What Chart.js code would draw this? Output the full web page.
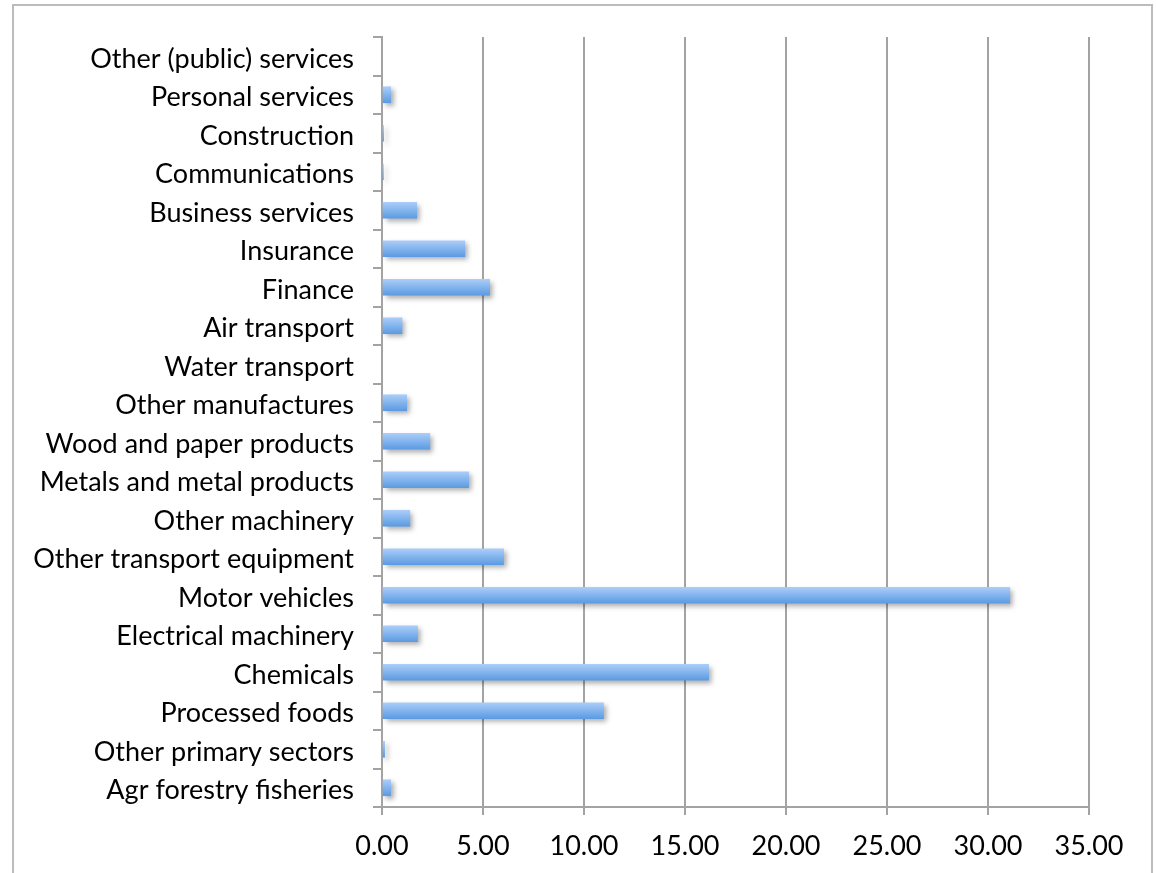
<!DOCTYPE html>
<html>
<head>
<meta charset="utf-8">
<script src="https://cdn.jsdelivr.net/npm/chart.js@4.4.1/dist/chart.umd.min.js"></script>
<style>
  html, body { margin: 0; padding: 0; background: #fff; overflow: hidden; }
  #frame { position: absolute; left: 12px; top: 4px; width: 1137px; height: 900px; border: 2px solid #bcbcbc; }
  #wrap { position: absolute; left: 0; top: 0; width: 1156px; height: 873px; }
</style>
</head>
<body>
<div id="frame"></div>
<div id="wrap"><canvas id="c" width="1156" height="873"></canvas></div>
<script>
// Categories listed bottom-to-top (as in the source chart)
const categories = [
  "Agr forestry fisheries",
  "Other primary sectors",
  "Processed foods",
  "Chemicals",
  "Electrical machinery",
  "Motor vehicles",
  "Other transport equipment",
  "Other machinery",
  "Metals and metal products",
  "Wood and paper products",
  "Other manufactures",
  "Water transport",
  "Air transport",
  "Finance",
  "Insurance",
  "Business services",
  "Communications",
  "Construction",
  "Personal services",
  "Other (public) services"
];
const values = [
  0.43, 0.13, 10.97, 16.17, 1.76, 31.08, 6.02, 1.38, 4.29, 2.37,
  1.22, 0.0, 0.99, 5.33, 4.10, 1.72, 0.07, 0.08, 0.43, 0.0
];
const xTickMin = 0, xTickMax = 35, xTickStep = 5;

const BAR_T = 16;

const shadowPlugin = {
  id: 'barShadow',
  beforeDatasetsDraw(chart) {
    const ctx = chart.ctx;
    ctx.save();
    ctx.shadowColor = 'rgba(0,0,0,0.32)';
    ctx.shadowBlur = 5;
    ctx.shadowOffsetX = 3;
    ctx.shadowOffsetY = 3;
  },
  afterDatasetsDraw(chart) {
    chart.ctx.restore();
  }
};

const font = { family: 'Lato, "Open Sans", sans-serif', size: 27 };

new Chart(document.getElementById('c'), {
  type: 'bar',
  data: {
    labels: categories,
    datasets: [{
      data: values,
      barThickness: BAR_T,
      borderWidth: 0,
      backgroundColor(context) {
        const chart = context.chart;
        const v = context.raw;
        if (!v) return 'rgba(0,0,0,0)';
        const ys = chart.scales && chart.scales.y;
        if (!ys || context.dataIndex === undefined) return '#7fb2ee';
        const cy = ys.getPixelForValue(context.dataIndex);
        if (!isFinite(cy)) return '#7fb2ee';
        const g = chart.ctx.createLinearGradient(0, cy - BAR_T / 2, 0, cy + BAR_T / 2);
        g.addColorStop(0, '#abcdf9');
        g.addColorStop(1, '#5b9be2');
        return g;
      }
    }]
  },
  options: {
    indexAxis: 'y',
    responsive: false,
    animation: false,
    layout: { padding: { left: 0, top: 37, right: 67, bottom: 0 } },
    plugins: { legend: { display: false }, tooltip: { enabled: false } },
    scales: {
      x: {
        min: xTickMin,
        max: xTickMax,
        afterFit(scale) { scale.height = 66; },
        ticks: {
          stepSize: xTickStep,
          color: '#000',
          font: font,
          padding: 15,
          maxRotation: 0,
          callback: (v) => Number(v).toFixed(2)
        },
        grid: { color: '#a3a3a3', lineWidth: 2, tickLength: 8, tickColor: '#a3a3a3' },
        border: { color: '#a3a3a3', width: 2 }
      },
      y: {
        reverse: true,
        afterFit(scale) { scale.width = 382; },
        ticks: { color: '#000', font: font, padding: 19, autoSkip: false, labelOffset: 3 },
        grid: { offset: true, drawOnChartArea: false, tickLength: 9, color: '#a3a3a3', lineWidth: 2 },
        border: { color: '#a3a3a3', width: 2 }
      }
    }
  },
  plugins: [shadowPlugin]
});
</script>
</body>
</html>
